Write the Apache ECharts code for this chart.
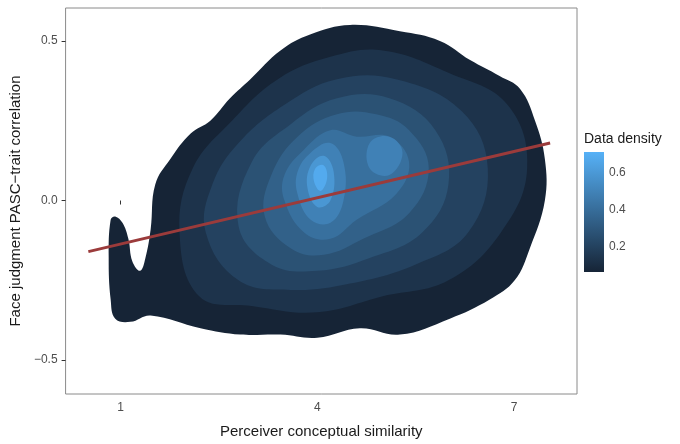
<!DOCTYPE html>
<html><head><meta charset="utf-8">
<script src="https://cdn.jsdelivr.net/npm/echarts@6/dist/echarts.min.js"></script>
<style>html,body{margin:0;background:#fff}#c{width:680px;height:444px}</style>
</head><body><div id="c"></div>
<script>
const xTicks=[1,4,7];
const yTicks=[-0.5,0,0.5];
const levelDensity=[0.07,0.14,0.21,0.28,0.35,0.42,0.5,0.5,0.6,0.69];
const contours=[
[[0.85,-0.06],[0.82,-0.18],[0.85,-0.31],[0.92,-0.37],[1.15,-0.38],[1.46,-0.36],[2.22,-0.40],[2.83,-0.42],[3.44,-0.42],[4.0,-0.43],[4.65,-0.40],[5.26,-0.42],[6.02,-0.37],[6.63,-0.31],[7.01,-0.25],[7.24,-0.15],[7.47,0.0],[7.47,0.13],[7.32,0.25],[7.09,0.35],[6.78,0.39],[6.33,0.44],[5.87,0.50],[5.26,0.53],[4.50,0.55],[3.89,0.52],[3.44,0.47],[2.98,0.38],[2.67,0.32],[2.37,0.25],[2.07,0.21],[1.76,0.13],[1.53,0.05],[1.46,-0.09],[1.38,-0.18],[1.30,-0.22],[1.18,-0.19],[1.12,-0.12],[1.03,-0.07],[0.92,-0.05]],
[[1.9,-0.1],[2.2,-0.3],[3,-0.33],[4,-0.35],[5,-0.3],[6,-0.25],[6.8,-0.1],[7.2,0.1],[6.9,0.3],[6,0.4],[5,0.47],[4.2,0.45],[3.4,0.38],[2.7,0.25],[2.1,0.1]],
[[2.3,-0.1],[2.8,-0.25],[3.6,-0.28],[4.5,-0.26],[5.5,-0.2],[6.3,-0.1],[6.6,0.1],[6.2,0.28],[5.2,0.38],[4.3,0.38],[3.5,0.3],[2.8,0.18],[2.4,0.05]],
[[2.8,-0.08],[3.3,-0.2],[4,-0.22],[4.8,-0.18],[5.6,-0.1],[6,0.05],[5.8,0.22],[5.1,0.32],[4.3,0.32],[3.6,0.24],[3.0,0.12]],
[[3.2,-0.05],[3.6,-0.15],[4.1,-0.17],[4.7,-0.12],[5.4,-0.04],[5.7,0.1],[5.4,0.22],[4.9,0.27],[4.3,0.27],[3.7,0.2],[3.3,0.08]],
[[3.5,0],[3.8,-0.1],[4.2,-0.12],[4.6,-0.06],[5.2,0.02],[5.4,0.12],[5.1,0.2],[4.6,0.2],[4.2,0.22],[3.8,0.16],[3.5,0.08]],
[[3.7,0.02],[3.9,-0.06],[4.2,-0.07],[4.4,0.0],[4.4,0.12],[4.2,0.18],[3.9,0.15],[3.7,0.09]],
[[4.8,0.1],[5.1,0.08],[5.3,0.15],[5.1,0.2],[4.8,0.18]],
[[3.85,0.04],[4.0,-0.02],[4.2,0.0],[4.25,0.09],[4.1,0.14],[3.9,0.11]],
[[3.95,0.06],[4.05,0.03],[4.15,0.07],[4.1,0.11],[3.97,0.1]]
];
const fitLine=[[0.51,-0.16],[7.55,0.18]];
const dMin=0.07,dMax=0.72;
function col(d){const t=Math.max(0,Math.min(1,(d-dMin)/(dMax-dMin)));
 const a=[0x16,0x24,0x36],b=[0x56,0xB1,0xF7];
 return 'rgb('+a.map((v,i)=>Math.round(v+(b[i]-v)*t)).join(',')+')';}
const fmt=v=>{const s=Math.abs(v).toFixed(1);return v<0?'\u2212'+s:s;};
const chart=echarts.init(document.getElementById('c'));
chart.setOption({
 animation:false,backgroundColor:'#fff',
 grid:{left:65,right:103,top:8,bottom:49,show:true,borderColor:'#8a8a8a',borderWidth:1,backgroundColor:'#fff'},
 xAxis:{type:'value',min:0.163,max:7.96,name:'Perceiver conceptual similarity',nameLocation:'middle',nameGap:30,
  nameTextStyle:{fontSize:15,color:'#1a1a1a',fontFamily:'Liberation Sans'},
  splitLine:{show:false},axisLine:{show:false},axisTick:{show:true,length:4,lineStyle:{color:'#333'},customValues:xTicks},
  axisLabel:{customValues:xTicks,color:'#4d4d4d',fontSize:12,margin:8,fontFamily:'Liberation Sans'}},
 yAxis:{type:'value',min:-0.606,max:0.603,name:'Face judgment PASC\u2212trait correlation',nameLocation:'middle',nameGap:42,
  nameTextStyle:{fontSize:15,color:'#1a1a1a',fontFamily:'Liberation Sans'},
  splitLine:{show:false},axisLine:{show:false},axisTick:{show:true,length:4,lineStyle:{color:'#333'},customValues:yTicks},
  axisLabel:{customValues:yTicks,formatter:fmt,color:'#4d4d4d',fontSize:12,margin:8,fontFamily:'Liberation Sans'}},
 series:[
  {type:'custom',clip:true,data:contours.map((c,i)=>[i]),encode:{x:-1,y:-1},
   renderItem:(p,api)=>{const i=p.dataIndex;return {type:'polygon',shape:{points:contours[i].map(q=>api.coord(q)),smooth:0.4},
    style:{fill:col(levelDensity[i]),stroke:null}};}},
  {type:'line',data:fitLine,symbol:'none',lineStyle:{color:'#9b3b3b',width:3}}
 ],
 graphic:[
  {type:'text',left:584,top:132,style:{text:'Data density',fontSize:14,fill:'#1a1a1a',fontFamily:'Liberation Sans'}},
  {type:'rect',shape:{x:584,y:152,width:20,height:120},style:{fill:new echarts.graphic.LinearGradient(0,0,0,1,[{offset:0,color:'#56B1F7'},{offset:1,color:'#162436'}])}},
  ...[0.2,0.4,0.6].map(v=>({type:'text',x:609,y:272-(v-0.07)/(0.72-0.07)*120-7,style:{text:v.toFixed(1),fontSize:12,fill:'#4d4d4d',fontFamily:'Liberation Sans'}}))
 ]
});
</script></body></html>
